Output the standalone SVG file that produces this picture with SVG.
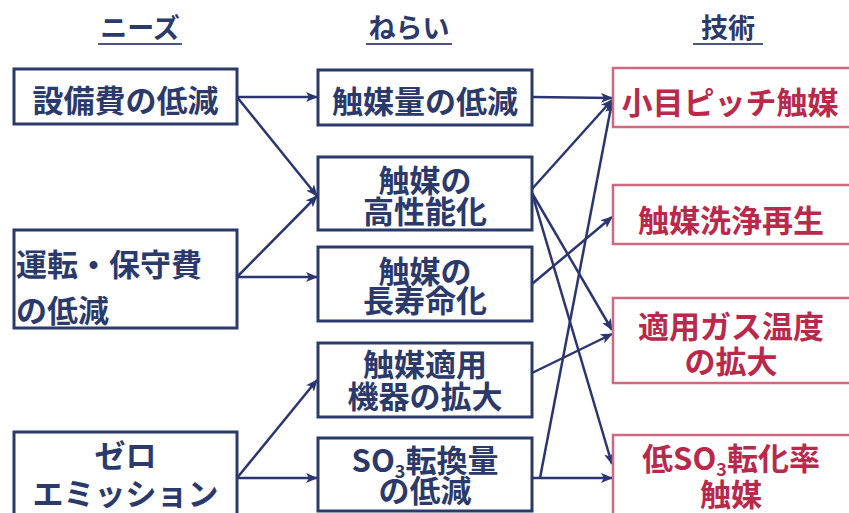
<svg xmlns="http://www.w3.org/2000/svg" width="849" height="513" viewBox="0 0 849 513">
<defs>
<marker id="ah" viewBox="0 0 12 10" refX="11" refY="5" markerWidth="12" markerHeight="10" markerUnits="userSpaceOnUse" orient="auto">
<path d="M0,0 L12,5 L0,10 L3,5 z" fill="#2b3670"/>
</marker>
<style>
.nb{fill:#ffffff;stroke:#2b3a6b;stroke-width:3}
.tb{fill:#ffffff;stroke:#d0687f;stroke-width:2.5}
.t{font-family:"Noto Sans CJK JP","Noto Sans",sans-serif;font-weight:bold;font-size:31px;fill:#2b3a6b}
.c{text-anchor:middle}
.r{fill:#b8294c}
.h{font-family:"Noto Sans CJK JP","Noto Sans",sans-serif;font-weight:bold;font-size:27px;fill:#2b3a6b;text-anchor:middle}
.ul{stroke:#4a5580;stroke-width:2}
.cn{stroke:#2b3670;stroke-width:2.5;fill:none}
.ca{marker-end:url(#ah)}
.sub{font-size:18px}
</style>
</defs>
<rect width="849" height="513" fill="#ffffff"/>
<g id="headers">
<text class="h" x="140" y="38">ニーズ</text>
<line class="ul" x1="98" y1="44" x2="182" y2="44"/>
<text class="h" x="409" y="38">ねらい</text>
<line class="ul" x1="366" y1="44" x2="452" y2="44"/>
<text class="h" x="728" y="38">技術</text>
<line class="ul" x1="693" y1="44" x2="763" y2="44"/>
</g>
<g id="connectors">
<line class="cn ca" x1="237" y1="97" x2="317" y2="97"/>
<line class="cn ca" x1="237" y1="97" x2="317" y2="196"/>
<line class="cn ca" x1="237" y1="277" x2="317" y2="196"/>
<line class="cn ca" x1="237" y1="277" x2="317" y2="277"/>
<line class="cn ca" x1="237" y1="478" x2="317" y2="380"/>
<line class="cn ca" x1="237" y1="478" x2="317" y2="478"/>
<line class="cn ca" x1="532" y1="97" x2="612" y2="98"/>
<line class="cn ca" x1="532" y1="189" x2="612" y2="100"/>
<line class="cn ca" x1="540" y1="478" x2="612" y2="102"/>
<line class="cn ca" x1="532" y1="193" x2="612" y2="330"/>
<line class="cn ca" x1="532" y1="193" x2="612" y2="464"/>
<line class="cn ca" x1="532" y1="284" x2="612" y2="217"/>
<line class="cn ca" x1="532" y1="373" x2="612" y2="334"/>
<line class="cn ca" x1="532" y1="478" x2="612" y2="478"/>
</g>
<g id="need1">
<rect class="nb" x="14" y="69" width="223" height="55"/>
<text class="t c" x="125.5" y="112">設備費の低減</text>
</g>
<g id="need2">
<rect class="nb" x="14" y="230" width="223" height="98"/>
<text class="t" x="16" y="276">運転・保守費</text>
<text class="t" x="16" y="322">の低減</text>
</g>
<g id="need3">
<rect class="nb" x="14" y="432" width="223" height="84"/>
<text class="t c" x="125.5" y="467">ゼロ</text>
<text class="t c" x="125.5" y="505">エミッション</text>
</g>
<g id="aim1">
<rect class="nb" x="318" y="70" width="214" height="55"/>
<text class="t c" x="425" y="113">触媒量の低減</text>
</g>
<g id="aim2">
<rect class="nb" x="318" y="157" width="214" height="73"/>
<text class="t c" x="425" y="192">触媒の</text>
<text class="t c" x="425" y="223">高性能化</text>
</g>
<g id="aim3">
<rect class="nb" x="318" y="247" width="214" height="74"/>
<text class="t c" x="425" y="283">触媒の</text>
<text class="t c" x="425" y="312">長寿命化</text>
</g>
<g id="aim4">
<rect class="nb" x="318" y="343" width="214" height="74"/>
<text class="t c" x="425" y="376">触媒適用</text>
<text class="t c" x="425" y="408">機器の拡大</text>
</g>
<g id="aim5">
<rect class="nb" x="318" y="438" width="214" height="73"/>
<text class="t c" x="425" y="472">SO<tspan class="sub" dy="6">3</tspan><tspan dy="-6">転換量</tspan></text>
<text class="t c" x="425" y="502">の低減</text>
</g>
<g id="tech1">
<rect class="tb" x="613" y="68" width="240" height="59"/>
<text class="t c r" x="730" y="114">小目ピッチ触媒</text>
</g>
<g id="tech2">
<rect class="tb" x="613" y="185" width="240" height="59"/>
<text class="t c r" x="731" y="232">触媒洗浄再生</text>
</g>
<g id="tech3">
<rect class="tb" x="613" y="298" width="240" height="85"/>
<text class="t c r" x="731" y="338">適用ガス温度</text>
<text class="t c r" x="731" y="373">の拡大</text>
</g>
<g id="tech4">
<rect class="tb" x="613" y="435" width="240" height="85"/>
<text class="t c r" x="731" y="470">低SO<tspan class="sub" dy="6">3</tspan><tspan dy="-6">転化率</tspan></text>
<text class="t c r" x="731" y="506">触媒</text>
</g>
</svg>
